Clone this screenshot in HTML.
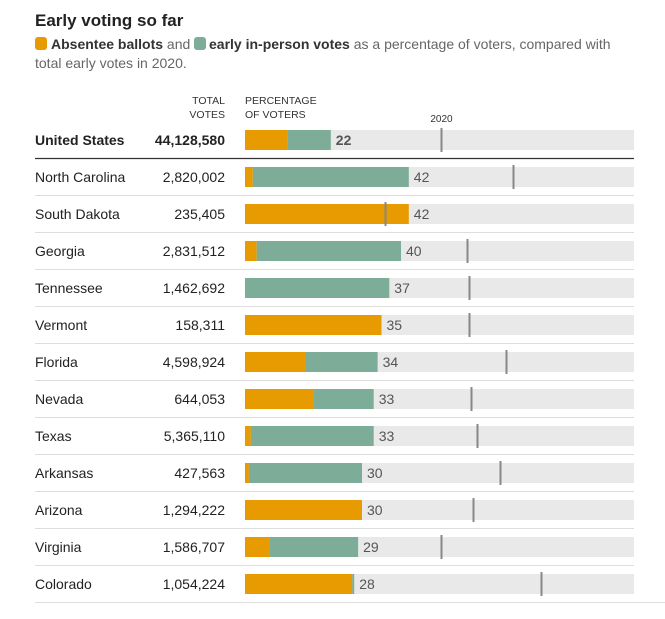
<!DOCTYPE html>
<html><head><meta charset="utf-8"><style>
body{margin:0;background:#fff;font-family:"Liberation Sans",sans-serif;}
svg text{font-family:"Liberation Sans",sans-serif;}
</style></head><body>
<svg id="chart" width="665" height="614">
<text x="35" y="26" font-size="17" font-weight="bold" fill="#222">Early voting so far</text>
<g>
<rect x="35" y="37" width="12" height="13" rx="3" fill="#e89b00"/>
<text x="51" y="49" font-size="14" fill="#666"><tspan font-weight="bold" fill="#333">Absentee ballots</tspan> and</text>
<rect x="194" y="37" width="12" height="13" rx="3" fill="#7dac99"/>
<text x="209" y="49" font-size="14" fill="#666"><tspan font-weight="bold" fill="#333">early in-person votes</tspan> as a percentage of voters, compared with</text>
<text x="35" y="68" font-size="14" fill="#666">total early votes in 2020.</text>
</g>
<text x="225" y="104" font-size="10.5" fill="#333" text-anchor="end"><tspan x="225">TOTAL</tspan><tspan x="225" dy="14">VOTES</tspan></text>
<text x="245" y="104" font-size="10.5" fill="#333"><tspan x="245">PERCENTAGE</tspan><tspan x="245" dy="14">OF VOTERS</tspan></text>
<g id="rows"></g>
</svg>
<script>
const states=["United States","North Carolina","South Dakota","Georgia","Tennessee","Vermont","Florida","Nevada","Texas","Arkansas","Arizona","Virginia","Colorado"];
const totals=["44,128,580","2,820,002","235,405","2,831,512","1,462,692","158,311","4,598,924","644,053","5,365,110","427,563","1,294,222","1,586,707","1,054,224"];
const absentee=[11,2,42,3,0,35,15.4,17.7,1.5,1,30,6.4,27.5];
const inPerson=[11,40,0,37,37,0,18.6,15.3,31.5,29,0,22.6,0.5];
const labels=[22,42,42,40,37,35,34,33,33,30,30,29,28];
const marker2020=[50.3,68.7,36,57,57.5,57.5,67,58,59.5,65.4,58.5,50.3,76];
const NS="http://www.w3.org/2000/svg";
const x0=245,xW=390;
const xs=v=>x0+v/100*xW;
const rowY=i=>140+i*37;
const g=document.getElementById('rows');
function mk(tag,attrs){const e=document.createElementNS(NS,tag);for(const k in attrs)e.setAttribute(k,attrs[k]);g.appendChild(e);return e;}
states.forEach((s,i)=>{
 const cy=rowY(i),bold=i===0;
 let t=mk('text',{x:35,y:cy+5,'font-size':14,fill:'#222','font-weight':bold?'bold':'normal'});t.textContent=s;
 
 
 t=mk('text',{x:225,y:cy+5,'font-size':14,fill:'#222','text-anchor':'end','font-weight':bold?'bold':'normal'});t.textContent=totals[i];
 
 
 let r=mk('rect',{x:x0,y:cy-10,width:xW-1,height:20,fill:'#e9e9e9'});
 
 
 r=mk('rect',{x:x0,y:cy-10,width:xs(absentee[i])-x0,height:20,fill:'#e89b00'});
 
 
 r=mk('rect',{x:xs(absentee[i]),y:cy-10,width:xs(absentee[i]+inPerson[i])-xs(absentee[i]),height:20,fill:'#7dac99'});
 
 
 t=mk('text',{x:xs(absentee[i]+inPerson[i])+5,y:cy+5,'font-size':14,fill:'#555','font-weight':bold?'bold':'normal'});t.textContent=labels[i];
 
 
 const mx=Math.round(xs(marker2020[i]))+0.5;
 let l=mk('line',{x1:mx,x2:mx,y1:cy-12,y2:cy+12,stroke:'#888','stroke-width':2});
 
 
 if(i===0){t=mk('text',{x:mx,y:cy-18,'font-size':10,fill:'#333','text-anchor':'middle'});t.textContent='2020';
  
  }
 const sy=cy+18.5;
 l=mk('line',{x1:35,x2:i===states.length-1?665:634,y1:sy,y2:sy,stroke:i===0?'#333':'#ddd','stroke-width':i===0?1.2:1});
 
 
});
</script>
</body></html>
